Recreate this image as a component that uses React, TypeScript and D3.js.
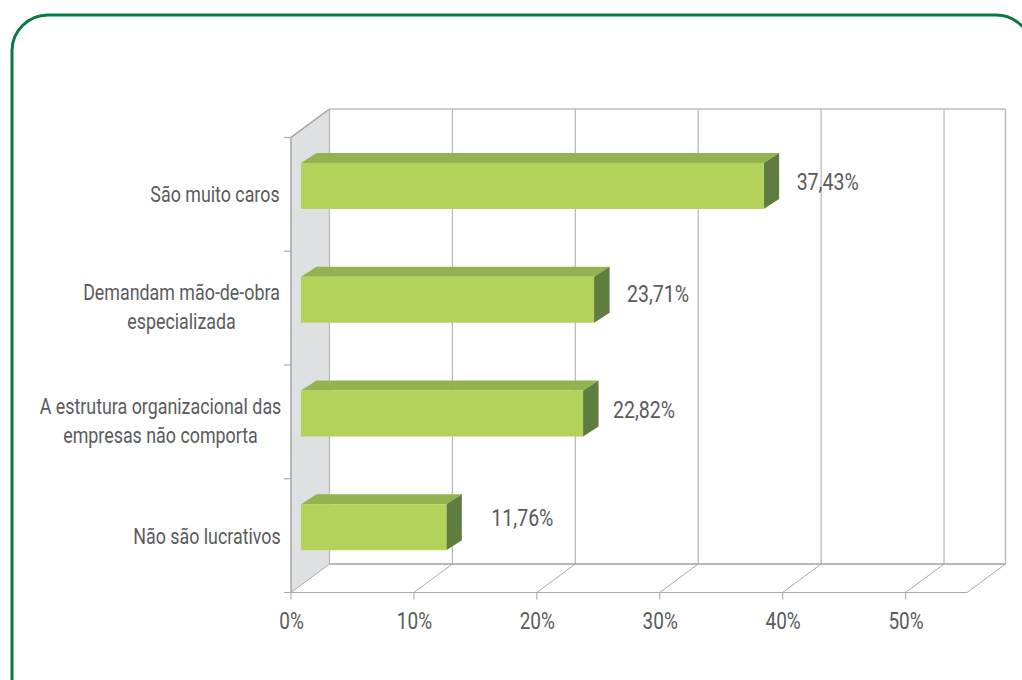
import React from "react";
import * as d3 from "d3";

const categories = ["São muito caros", "Demandam mão-de-obra especializada", "A estrutura organizacional das empresas não comporta", "Não são lucrativos"];
const categoryLines = [["São muito caros"], ["Demandam mão-de-obra", "especializada"], ["A estrutura organizacional das", "empresas não comporta"], ["Não são lucrativos"]];
const values = [37.43, 23.71, 22.82, 11.76];
const valueLabels = ["37,43%", "23,71%", "22,82%", "11,76%"];
const axisTicks = [0, 10, 20, 30, 40, 50];
const labelGap = [33, 33, 30, 45];
const labelShiftY = [-4, -6, -3, -9];
const catCenterY = [195, 307.5, 421.5, 537];

const W = 1022, H = 680;
const x = d3.scaleLinear().domain([0, 55]).range([291, 967]);
const xBar = d3.scaleLinear().domain([0, 55]).range([301, 301 + 12.36 * 55]);
const y = d3.scaleBand().domain(categories).range([137.5, 592.5]);
const dx = 38.5, dy = -28.5;
const bdx = 15.5, bdy = -10;
const barH = 46;
const frontTop = y.range()[0], floorY = y.range()[1];
const FONT = "Roboto, sans-serif";
const TEXT = "#5a5b5d";
const poly = (pts: number[][]) => "M" + pts.map((p) => p.join(",")).join("L") + "Z";

function T({ x: tx, y: ty, size = 21.5, sx = 0.83, children, anchor = "middle" }: any) {
  return (
    <text transform={`translate(${tx},${ty}) scale(${sx},1)`} textAnchor={anchor} fontFamily={FONT} fontSize={size} fill={TEXT}>
      {children}
    </text>
  );
}

export default function App() {
  const x0 = x(0), xEnd = x(55);
  const backTop = frontTop + dy, backFloor = floorY + dy;
  return (
    <svg width={W} height={H} style={{ position: "absolute", left: 0, top: 0, background: "#fff" }}>
      <rect x={12} y={15} width={1020} height={700} rx={36} ry={36} fill="none" stroke="#0b7a40" strokeWidth={3} />
      <path d={poly([[x0, frontTop], [x0 + dx, backTop], [x0 + dx, backFloor], [x0, floorY]])} fill="#dfe0e2" />
      <path d={`M${x0},${floorY}L${x0},${frontTop}L${x0 + dx},${backTop}`} fill="none" stroke="#a3a4a6" strokeWidth={1.5} />
      {axisTicks.map((t) => (
        <g key={t}>
          <line x1={x(t) + dx} x2={x(t) + dx} y1={backTop} y2={backFloor} stroke="#b5b6b8" strokeWidth={1.2} />
          <line x1={x(t)} x2={x(t) + dx} y1={floorY} y2={backFloor} stroke="#a9aaac" strokeWidth={1} />
          <line x1={x(t)} x2={x(t)} y1={floorY} y2={floorY + 7} stroke="#b0b1b3" strokeWidth={1.2} />
          <T x={x(t) + 0.5} y={628.5} size={23} sx={0.825}>{`${t}%`}</T>
        </g>
      ))}
      <line x1={xEnd + dx} x2={xEnd + dx} y1={backTop} y2={backFloor} stroke="#bdbec0" strokeWidth={1.5} />
      <line x1={xEnd} x2={xEnd + dx} y1={floorY} y2={backFloor} stroke="#a9aaac" strokeWidth={1} />
      <line x1={x0 + dx} x2={xEnd + dx} y1={backTop} y2={backTop} stroke="#bdbec0" strokeWidth={1.5} />
      <line x1={x0 + dx} x2={xEnd + dx} y1={backFloor} y2={backFloor} stroke="#a0a1a3" strokeWidth={1.5} />
      <line x1={x0 - 7} x2={xEnd} y1={floorY} y2={floorY} stroke="#a9aaac" strokeWidth={1.2} />
      {categories.map((_, i) => (
        <line key={i} x1={x0 - 7} x2={x0} y1={(y(categories[i]) as number)} y2={(y(categories[i]) as number)} stroke="#a9aaac" strokeWidth={1.2} />
      ))}
      {categories.map((c, i) => {
        const top = (y(c) as number) + y.bandwidth() / 2 - 8.4 - barH / 2;
        const l = xBar(0), r = xBar(values[i]);
        const labelY = top + barH / 2 + labelShiftY[i] + 8;
        return (
          <g key={c}>
            <path d={poly([[l, top], [l + bdx, top + bdy], [r + bdx, top + bdy], [r, top]])} fill="#93b34f" />
            <path d={poly([[r, top], [r + bdx, top + bdy], [r + bdx, top + barH + bdy], [r, top + barH]])} fill="#5f7d3e" />
            <rect x={l} y={top} width={r - l} height={barH} fill="#b2d25a" />
            <T x={r + labelGap[i]} y={labelY} size={23.4} sx={0.835} anchor="start">{valueLabels[i]}</T>
          </g>
        );
      })}
      {categoryLines.map((lines, i) => {
        const center = i === 1 ? 181.5 : i === 2 ? 160.5 : i === 0 ? 215 : 207;
        return lines.map((ln, j) => (
          <T key={ln} x={center} y={catCenterY[i] + 7 + (j - (lines.length - 1) / 2) * 29}>{ln}</T>
        ));
      })}
    </svg>
  );
}
